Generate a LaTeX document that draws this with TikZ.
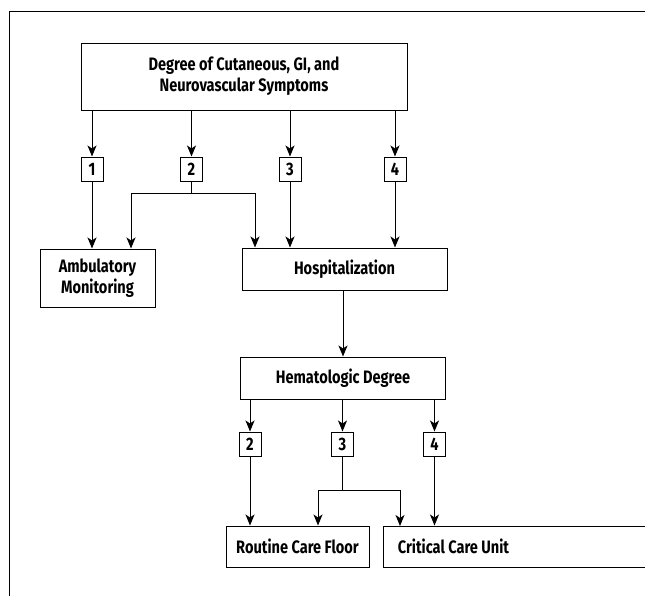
\documentclass[tikz,border=0pt]{standalone}
\usepackage{fontspec}
\setmainfont{Fira Sans}[FakeStretch=0.81]
\usetikzlibrary{arrows.meta,calc}
\begin{document}
\begin{tikzpicture}[x=1pt,y=-1pt,
  box/.style={draw,line width=1pt,inner sep=0pt,align=center,font=\fontsize{18}{21}\selectfont\bfseries},
  numbox/.style={draw,line width=1pt,inner sep=0pt,minimum width=22pt,minimum height=24pt,font=\fontsize{18}{18}\selectfont\bfseries},
  ln/.style={line width=1pt},
  arr/.style={line width=1pt,-{Stealth[length=11pt,width=9pt,inset=3pt]}}]
\useasboundingbox (0,0) rectangle (645,595);
% frame
\draw[line width=1pt] (650,11) -- (9.5,11) -- (9.5,600);
% nodes
\node[box,minimum width=326pt,minimum height=67pt] (top) at (244,76.5) {Degree of Cutaneous, GI, and\\Neurovascular Symptoms};
\node[numbox] (n1) at (92,169) {1};
\node[numbox] (n2) at (191.5,169) {2};
\node[numbox] (n3) at (290,169) {3};
\node[numbox] (n4) at (395,169) {4};
\node[box,minimum width=115pt,minimum height=58pt] (amb) at (97.5,278) {Ambulatory\\Monitoring};
\node[box,minimum width=205pt,minimum height=42pt] (hosp) at (344.5,269) {Hospitalization};
\node[box,minimum width=205pt,minimum height=42pt] (hem) at (343,378) {Hematologic Degree};
\node[numbox] (m2) at (250,444) {2};
\node[numbox] (m3) at (342.5,444) {3};
\node[numbox] (m4) at (434.5,444) {4};
\node[box,minimum width=143pt,minimum height=41pt] (rcf) at (297.5,546.5) {Routine Care Floor};
\node[box,draw=none,minimum width=139pt,minimum height=41pt] (ccu) at (453.5,546.5) {Critical Care Unit};
\draw[ln] (660,526) -| (ccu.west) |- (660,567);
% junctions
\coordinate (j2) at (191.5,193);
\coordinate (j3) at (342.5,490);
% connectors
\foreach \n in {n1,n2,n3,n4}
  \draw[arr] (top.south -| \n.north) -- (\n.north);
\draw[arr] (n1.south) -- (n1.south |- amb.north);
\draw[ln] (n2.south) -- (j2);
\draw[arr] (j2) -| ([xshift=33.5pt]amb.north);
\draw[arr] (j2) -| ([xshift=-89.5pt]hosp.north);
\draw[arr] (n3.south) -- (n3.south |- hosp.north);
\draw[arr] (n4.south) -- (n4.south |- hosp.north);
\draw[arr] (hem.north |- hosp.south) -- (hem.north);
\foreach \n in {m2,m3,m4}
  \draw[arr] (hem.south -| \n.north) -- (\n.north);
\draw[arr] (m2.south) -- (m2.south |- rcf.north);
\draw[ln] (m3.south) -- (j3);
\draw[arr] (j3) -| ([xshift=20.5pt]rcf.north);
\draw[arr] (j3) -| (400,526);
\draw[arr] (m4.south) -- (m4.south |- ccu.north);
\end{tikzpicture}
\end{document}
